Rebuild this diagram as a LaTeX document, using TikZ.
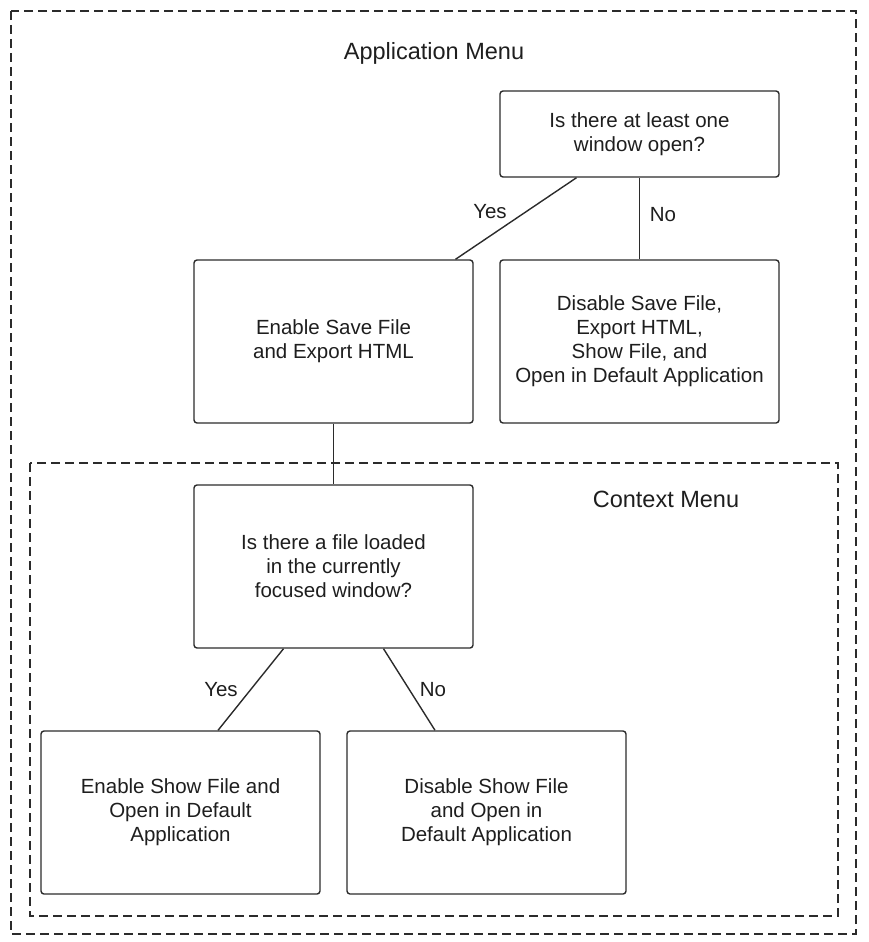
\documentclass[tikz,border=0pt]{standalone}
\usepackage{fontspec}
\setmainfont{Liberation Sans}
\usetikzlibrary{calc}

\definecolor{linegray}{HTML}{2B2B2B}
\definecolor{textgray}{HTML}{1E1E1E}

\begin{document}
\begin{tikzpicture}[x=1pt, y=-1pt, line width=1.4pt, draw=linegray,
    box/.style={draw, rounded corners=3pt, minimum width=279pt, minimum height=163pt,
      inner sep=0pt, align=center, text=textgray, font=\fontsize{20.5}{24}\selectfont},
    frame/.style={draw, dash pattern=on 9pt off 5pt},
    title/.style={text=textgray, font=\fontsize{23.5}{28}\selectfont},
    answer/.style={text=textgray, font=\fontsize{20.5}{24}\selectfont}]
    \useasboundingbox (0,0) rectangle (869,942);

    % draw dashed frames
    \draw[frame] (11,11) rectangle (856,934);
    \draw[frame] (30,463) rectangle (838,916);

    % draw titles
    \node[title] (appmenu) at (434,53) {Application Menu};
    \node[title] (ctxmenu) at (666,499) {Context Menu};

    % draw nodes
    \node[box, minimum height=86pt] (anywin) at (639.5,134) {Is there at least one\\window open?};
    \node[box] (enablesave) at (333.5,341.5) {Enable Save File\\and Export HTML};
    \node[box] (disablesave) at (639.5,341.5) {Disable Save File,\\Export HTML,\\Show File, and\\Open in Default Application};
    \node[box] (fileloaded) at (333.5,566.5) {Is there a file loaded\\in the currently\\focused window?};
    \node[box] (enableshow) at (180.5,812.5) {Enable Show File and\\Open in Default\\Application};
    \node[box] (disableshow) at (486.5,812.5) {Disable Show File\\and Open in\\Default Application};

    % draw connectors
    \draw ($(anywin.south)+(-63,0)$) -- ($(enablesave.north)+(122,0)$);
    \draw (anywin.south) -- (disablesave.north);
    \draw (enablesave.south) -- (fileloaded.north);
    \draw ($(fileloaded.south)+(-50,0)$) -- ($(enableshow.north)+(37.5,0)$);
    \draw ($(fileloaded.south)+(50,0)$) -- ($(disableshow.north)+(-51.5,0)$);

    % draw answers
    \node[answer] (yes1) at (490,212) {Yes};
    \node[answer] (no1) at (663,215) {No};
    \node[answer] (yes2) at (221,690) {Yes};
    \node[answer] (no2) at (433,690) {No};
  \end{tikzpicture}
\end{document}
